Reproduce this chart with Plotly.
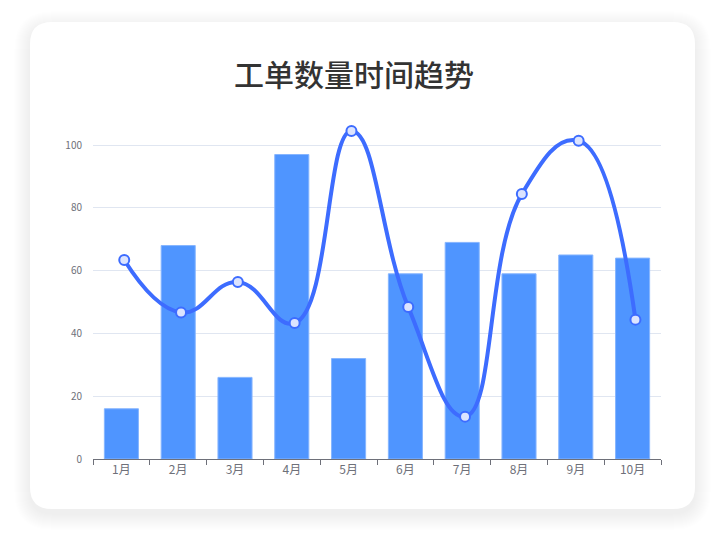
import plotly.graph_objects as go

months = ["1月", "2月", "3月", "4月", "5月", "6月", "7月", "8月", "9月", "10月"]
bar_values = [16, 68, 26, 97, 32, 59, 69, 59, 65, 64]
line_values = [63.4, 46.7, 56.4, 43.3, 104.5, 48.4, 13.5, 84.4, 101.4, 44.4]
y_ticks = [0, 20, 40, 60, 80, 100]
title_text = "工单数量时间趋势"

W, H = 725, 547
L, R, T, B = 93, 661, 120, 459  # plot area in pixels


def xp(px):
    return (px - L) / (R - L)


def yp(py):
    return (B - py) / (B - T)


def rrect(x0, y0, x1, y1, r):
    pts = [
        f"M {xp(x0 + r)} {yp(y0)}",
        f"L {xp(x1 - r)} {yp(y0)}",
        f"Q {xp(x1)} {yp(y0)} {xp(x1)} {yp(y0 + r)}",
        f"L {xp(x1)} {yp(y1 - r)}",
        f"Q {xp(x1)} {yp(y1)} {xp(x1 - r)} {yp(y1)}",
        f"L {xp(x0 + r)} {yp(y1)}",
        f"Q {xp(x0)} {yp(y1)} {xp(x0)} {yp(y1 - r)}",
        f"L {xp(x0)} {yp(y0 + r)}",
        f"Q {xp(x0)} {yp(y0)} {xp(x0 + r)} {yp(y0)}",
        "Z",
    ]
    return " ".join(pts)


shapes = []
# soft shadow
for i in range(16, 0, -1):
    shapes.append(dict(
        type="path", xref="paper", yref="paper", layer="below",
        path=rrect(30 - i, 22 - i + 5, 695 + i, 509 + i + 5, 22 + i),
        fillcolor="rgba(0,0,0,0.0045)", line=dict(width=0),
    ))
# card
shapes.append(dict(
    type="path", xref="paper", yref="paper", layer="below",
    path=rrect(30, 22, 695, 509, 22),
    fillcolor="#FFFFFF", line=dict(width=0),
))

idx = list(range(len(months)))
line_offset = 0.05
line_x = [i + line_offset for i in idx]

fig = go.Figure()
fig.add_trace(go.Bar(
    x=idx, y=bar_values, width=0.6,
    marker=dict(color="#4F95FF", line=dict(color="#86B5FF", width=1)),
    hoverinfo="skip",
))
fig.add_trace(go.Scatter(
    x=line_x, y=line_values, mode="lines+markers",
    line=dict(color="#3D6CFF", width=4, shape="spline", smoothing=1.3),
    marker=dict(size=10, color="#DCE4FF", line=dict(color="#3D6CFF", width=2)),
    cliponaxis=False,
    hoverinfo="skip",
))

fig.update_layout(
    width=W, height=H,
    margin=dict(l=L, r=W - R, t=T, b=H - B, pad=0),
    paper_bgcolor="#FFFFFF",
    plot_bgcolor="rgba(0,0,0,0)",
    showlegend=False,
    shapes=shapes,
    bargap=0.4,
    font=dict(family="Noto Sans CJK SC, Noto Sans, sans-serif", color="#6E7079"),
    annotations=[dict(
        text=title_text, xref="paper", yref="paper",
        x=xp(354), y=yp(73), xanchor="center", yanchor="middle",
        showarrow=False,
        font=dict(size=30, color="#333333", family="Noto Sans CJK SC", weight=500),
    )],
)

fig.update_xaxes(
    range=[-0.5, len(months) - 0.5],
    tickvals=idx, ticktext=months,
    ticks="", showgrid=False, zeroline=False,
    showline=True, linecolor="#6E7079", linewidth=1,
    tickfont=dict(size=12, color="#6E7079"),
    minor=dict(tickvals=[i - 0.5 for i in range(len(months) + 1)],
               ticks="outside", ticklen=5, tickcolor="#6E7079", tickwidth=1,
               showgrid=False),
    fixedrange=True,
)
fig.update_yaxes(
    range=[0, 108],
    tickvals=y_ticks, ticktext=[str(v) for v in y_ticks],
    showgrid=True, gridcolor="#E0E6F1", gridwidth=1,
    zeroline=False, showline=False, ticks="",
    ticklabelstandoff=10,
    tickfont=dict(size=10, color="#6E7079"),
    fixedrange=True,
)

fig.write_html(
    "out.html",
    config={"displayModeBar": False},
    post_script="document.body.style.margin='0';document.body.style.overflow='hidden';",
)
